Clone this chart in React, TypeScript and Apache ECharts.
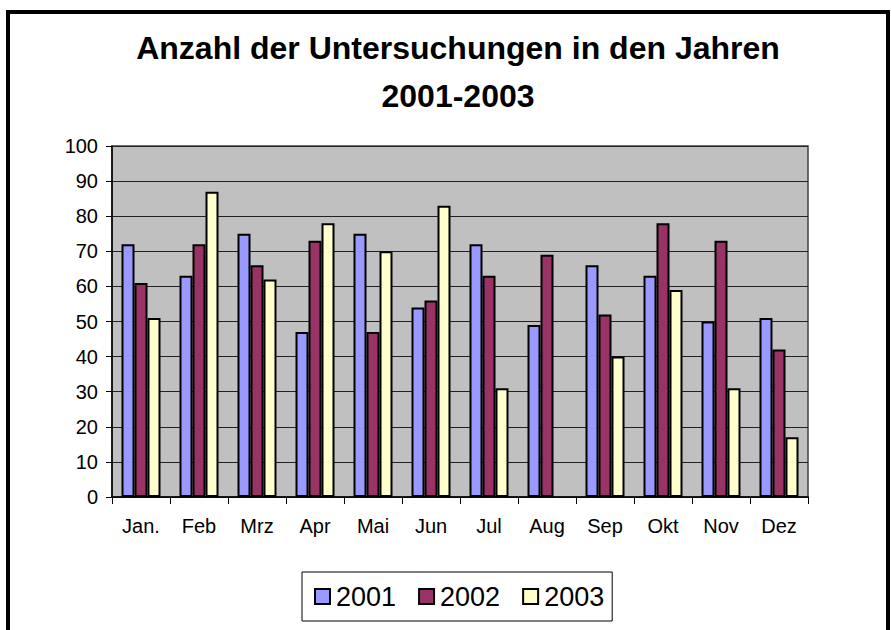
import React, { useEffect, useRef } from "react";
import * as echarts from "echarts";

const months = ["Jan.", "Feb", "Mrz", "Apr", "Mai", "Jun", "Jul", "Aug", "Sep", "Okt", "Nov", "Dez"];
const years = ["2001", "2002", "2003"];
const values2001 = [72, 63, 75, 47, 75, 54, 72, 49, 66, 63, 50, 51];
const values2002 = [61, 72, 66, 73, 47, 56, 63, 69, 52, 78, 73, 42];
const values2003 = [51, 87, 62, 78, 70, 83, 31, null, 40, 59, 31, 17];
const seriesColors = ["#9999FF", "#993366", "#FFFFCC"];
const titleText = "Anzahl der Untersuchungen in den Jahren\n2001-2003";

const FONT = "'Liberation Sans', Arial, sans-serif";

export default function App() {
  const ref = useRef<HTMLDivElement>(null);
  useEffect(() => {
    document.body.style.margin = "0";
    const chart = echarts.init(ref.current!, null, { renderer: "svg" });
    const data = [values2001, values2002, values2003];
    chart.setOption({
      animation: false,
      backgroundColor: "#FFFFFF",
      textStyle: { fontFamily: FONT },
      title: {
        text: titleText,
        left: 453,
        textAlign: "center",
        top: 19,
        textStyle: {
          fontFamily: FONT,
          fontSize: 32,
          fontWeight: "bold",
          color: "#000",
          lineHeight: 48,
        },
      },
      graphic: [
        {
          type: "rect",
          shape: { x: 8, y: 12, width: 880, height: 700 },
          style: { fill: "none", stroke: "#000", lineWidth: 4 },
          silent: true,
        },
      ],
      legend: {
        left: 302,
        top: 572,
        data: years,
        icon: "rect",
        itemWidth: 15,
        itemHeight: 15,
        itemGap: 22,
        padding: [11, 8, 11, 12],
        borderColor: "#000",
        borderWidth: 1,
        backgroundColor: "#fff",
        itemStyle: { borderColor: "#000", borderWidth: 2 },
        textStyle: { fontFamily: FONT, fontSize: 27, color: "#000", padding: [0, 0, 0, 1] },
      },
      grid: {
        left: 112,
        right: 83,
        top: 146,
        bottom: 133,
        show: true,
        backgroundColor: "#C0C0C0",
        borderColor: "#404040",
        borderWidth: 1.5,
        containLabel: false,
      },
      xAxis: {
        type: "category",
        data: months,
        axisLine: { show: true, lineStyle: { color: "#000", width: 1.5 } },
        axisTick: { show: true, length: 7, lineStyle: { color: "#000" } },
        axisLabel: { fontFamily: FONT, fontSize: 20, color: "#000", margin: 19 },
        splitLine: { show: false },
      },
      yAxis: {
        type: "value",
        min: 0,
        max: 100,
        interval: 10,
        axisLine: { show: true, lineStyle: { color: "#000", width: 1.5 } },
        axisTick: { show: true, length: 6, lineStyle: { color: "#000" } },
        axisLabel: { fontFamily: FONT, fontSize: 20, color: "#000", margin: 14 },
        splitLine: { show: true, lineStyle: { color: "#222", width: 1 } },
      },
      series: years.map((y, i) => ({
        name: y,
        type: "bar",
        data: data[i],
        barWidth: 13,
        barGap: "0%",
        itemStyle: { color: seriesColors[i], borderColor: "#000", borderWidth: 2 },
      })),
    });
    return () => chart.dispose();
  }, []);
  return <div ref={ref} style={{ position: "absolute", left: 0, top: 0, width: 891, height: 630 }} />;
}
